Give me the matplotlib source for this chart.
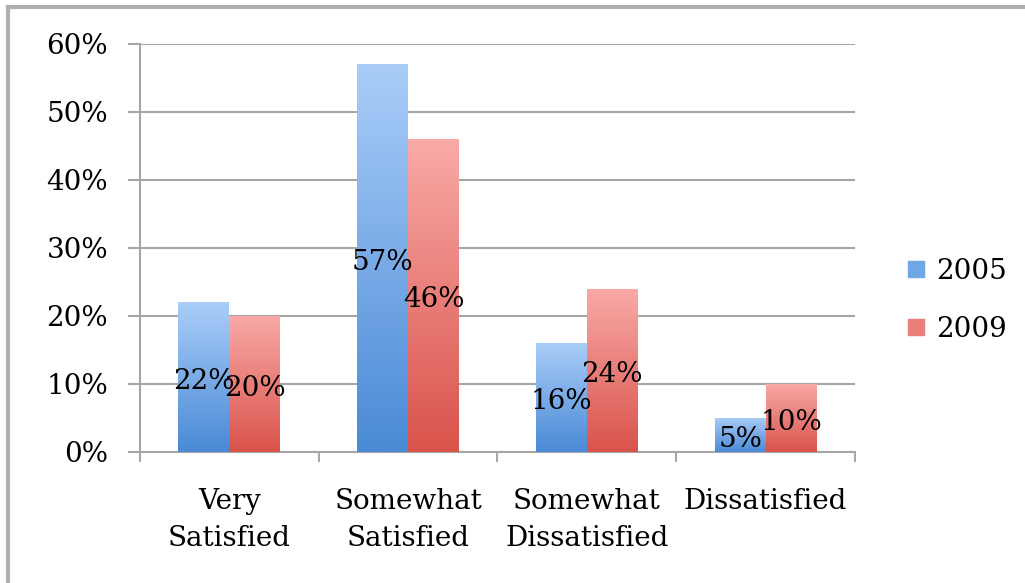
import numpy as np
import matplotlib
matplotlib.use("Agg")
import matplotlib.pyplot as plt
from matplotlib.colors import LinearSegmentedColormap
from matplotlib.lines import Line2D

plt.rcParams.update({"font.family": "DejaVu Serif"})

categories = ["Very\nSatisfied", "Somewhat\nSatisfied", "Somewhat\nDissatisfied", "Dissatisfied"]
years = ["2005", "2009"]
vals_2005 = [22, 57, 16, 5]
vals_2009 = [20, 46, 24, 10]

FS = 20
GRID = "#a6a6a6"
BLUE = LinearSegmentedColormap.from_list("b", ["#4a8ad6", "#aacdf8"])
RED = LinearSegmentedColormap.from_list("r", ["#d9534b", "#f9aaa7"])

fig = plt.figure(figsize=(10.25, 5.83), dpi=100)
ax = fig.add_axes([0.1366, 0.2247, 0.6975, 0.7])

x = np.arange(len(categories))
w = 0.285
grad = np.linspace(0, 1, 256).reshape(-1, 1)
for vals, off, cmap in [(vals_2005, -w / 2, BLUE), (vals_2009, w / 2, RED)]:
    bars = ax.bar(x + off, vals, width=w, color="none", edgecolor="none", zorder=3)
    for b, v in zip(bars, vals):
        x0 = b.get_x()
        im = ax.imshow(grad, cmap=cmap, origin="lower", aspect="auto",
                       extent=[x0, x0 + w, 0, v], zorder=3)
        im.set_clip_path(b)
        ax.annotate(f"{v}%", (x0 + w / 2, v / 2), xytext=(0, -3), textcoords="offset points",
                    ha="center", va="center", fontsize=FS, color="black", zorder=5)

ax.set_xlim(-0.5, 3.5)
ax.set_ylim(0, 60)
ax.set_yticks(range(0, 61, 10))
ax.set_yticklabels([f"{t}%" for t in range(0, 61, 10)])
ax.yaxis.grid(True, color=GRID, lw=1.5)
ax.set_axisbelow(True)
ax.set_xticks(x)
ax.set_xticklabels(categories, linespacing=1.45)
ax.set_xticks(np.arange(-0.5, 3.6, 1), minor=True)
ax.tick_params(axis="x", which="major", length=0, pad=26, labelsize=FS)
ax.tick_params(axis="x", which="minor", length=7, width=1.5, color=GRID, direction="out")
ax.tick_params(axis="y", length=9, width=1.5, color=GRID, pad=14, labelsize=FS)
for s in ("top", "right"):
    ax.spines[s].set_visible(False)
for s in ("left", "bottom"):
    ax.spines[s].set_color(GRID)
    ax.spines[s].set_linewidth(1.5)
ax.spines["left"].set_bounds(0, 60)

handles = [Line2D([], [], marker="s", ls="none", markersize=11, color=c)
           for c in ("#6fa6e6", "#ea7f79")]
fig.legend(handles, years, loc="center left", bbox_to_anchor=(0.856, 0.485),
           frameon=False, fontsize=FS, handletextpad=0.2, labelspacing=1.1,
           handlelength=1.0)

# outer chart frame (top and left edges only visible in the crop)
fig.add_artist(Line2D([0.008, 1.0], [0.988, 0.988], color="#b0b0b0", lw=3, transform=fig.transFigure))
fig.add_artist(Line2D([0.008, 0.008], [0.0, 0.988], color="#b0b0b0", lw=3, transform=fig.transFigure))

fig.savefig("out.png", dpi=100, facecolor="white")
